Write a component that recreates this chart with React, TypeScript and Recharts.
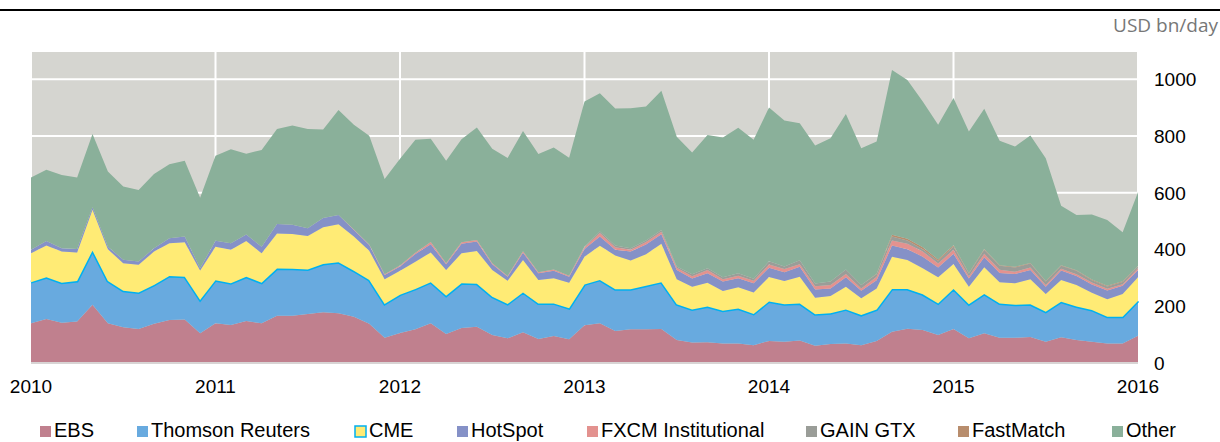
import React from "react";
import { AreaChart, Area, XAxis, YAxis, CartesianGrid, Legend } from "recharts";

// Monthly categories, Jan 2010 .. Jan 2016
const months: string[] = [
  "2010-01","2010-02","2010-03","2010-04","2010-05","2010-06","2010-07","2010-08","2010-09","2010-10","2010-11","2010-12",
  "2011-01","2011-02","2011-03","2011-04","2011-05","2011-06","2011-07","2011-08","2011-09","2011-10","2011-11","2011-12",
  "2012-01","2012-02","2012-03","2012-04","2012-05","2012-06","2012-07","2012-08","2012-09","2012-10","2012-11","2012-12",
  "2013-01","2013-02","2013-03","2013-04","2013-05","2013-06","2013-07","2013-08","2013-09","2013-10","2013-11","2013-12",
  "2014-01","2014-02","2014-03","2014-04","2014-05","2014-06","2014-07","2014-08","2014-09","2014-10","2014-11","2014-12",
  "2015-01","2015-02","2015-03","2015-04","2015-05","2015-06","2015-07","2015-08","2015-09","2015-10","2015-11","2015-12",
  "2016-01",
];

const yearTicks: string[] = ["2010-01", "2011-01", "2012-01", "2013-01", "2014-01", "2015-01", "2016-01"];
const valueTicks: number[] = [0, 200, 400, 600, 800, 1000];

const ebs: number[] = [
  140,155,142,146,205,140,126,120,138,152,153,105,
  140,134,148,140,167,167,173,179,175,163,138,89,
  106,119,140,102,123,128,99,87,108,85,95,84,
  133,140,113,119,119,120,81,72,73,69,69,63,
  78,75,79,61,67,69,63,78,110,121,116,99,
  120,87,105,89,89,92,75,91,81,75,69,69,
  96,
];
const thomsonReuters: number[] = [
  145,147,141,143,191,149,129,129,137,155,151,117,
  152,147,156,143,166,165,157,170,180,162,155,119,
  135,142,145,135,158,151,135,121,141,125,115,109,
  144,153,147,141,153,165,126,117,126,115,123,110,
  139,132,131,111,108,120,106,111,151,140,126,111,
  141,120,138,121,116,115,106,125,118,112,94,94,
  123,
];
const cme: number[] = [
  102,112,110,101,144,112,97,97,118,115,122,104,
  118,118,126,104,124,123,118,130,134,121,103,87,
  84,96,105,91,106,116,94,82,114,83,89,90,
  98,120,119,101,111,135,88,80,84,70,75,76,
  86,82,94,58,61,80,59,74,114,102,92,92,
  88,62,95,75,76,88,62,77,76,61,62,80,
  83,
];
const hotSpot: number[] = [
  12,16,12,12,9,9,12,12,12,18,20,8,
  21,23,23,23,33,32,27,32,33,23,20,15,
  15,27,29,20,33,33,20,14,26,23,26,21,
  27,33,20,32,35,34,33,29,33,33,32,32,
  33,31,35,29,27,33,27,29,39,38,41,35,
  36,29,35,32,33,33,26,33,32,29,31,29,
  26,
];
const fxcm: number[] = [
  0,0,0,0,0,0,0,0,0,0,0,0,
  0,0,0,0,0,0,0,0,0,2,2,3,
  4,5,8,4,6,6,4,3,5,4,5,4,
  6,12,9,6,9,9,8,8,12,8,9,9,
  11,11,9,12,12,12,8,12,18,19,18,14,
  14,8,12,12,8,9,6,6,6,7,6,6,
  6,
];
const gainGtx: number[] = [
  0,0,0,0,0,0,0,0,0,0,0,0,
  0,0,0,0,0,0,0,0,0,0,0,0,
  0,0,0,0,0,0,0,0,0,0,0,0,
  3,6,6,6,5,6,4,7,6,7,8,7,
  12,9,14,9,12,16,12,9,14,12,8,9,
  12,9,14,14,15,14,12,11,12,8,8,8,
  6,
];
const fastMatch: number[] = [
  0,0,0,0,0,0,0,0,0,0,0,0,
  0,0,0,0,0,0,0,0,0,0,0,0,
  0,0,0,0,0,0,0,0,0,0,0,0,
  0,0,0,0,0,0,0,0,0,0,0,0,
  0,0,0,0,0,0,0,2,6,6,7,5,
  4,2,3,2,2,2,2,2,2,2,2,2,
  2,
];
const other: number[] = [
  255,251,258,252,258,265,258,252,261,261,267,249,
  300,332,285,341,335,350,350,312,370,369,383,336,
  376,398,364,361,363,396,403,416,424,417,430,416,
  511,487,483,493,472,491,458,429,470,493,513,490,
  542,515,483,487,505,548,482,466,581,560,514,475,
  519,499,494,439,424,449,433,209,195,230,232,173,
  260,
];

const series = [
  { key: "ebs", name: "EBS", color: "#C0808E", values: ebs },
  { key: "tr", name: "Thomson Reuters", color: "#68AADF", values: thomsonReuters },
  { key: "cme", name: "CME", color: "#FFEB75", values: cme },
  { key: "hotspot", name: "HotSpot", color: "#8591C7", values: hotSpot },
  { key: "fxcm", name: "FXCM Institutional", color: "#E3928F", values: fxcm },
  { key: "gain", name: "GAIN GTX", color: "#9A9D98", values: gainGtx },
  { key: "fastmatch", name: "FastMatch", color: "#B88D6D", values: fastMatch },
  { key: "other", name: "Other", color: "#8AB09A", values: other },
];

const data = months.map((m, i) => {
  const row: Record<string, string | number> = { month: m };
  series.forEach((s) => {
    row[s.key] = s.values[i];
  });
  return row;
});

const legendX = [40, 137, 355, 457, 587, 806, 958, 1112];
const FONT = "'Liberation Sans', Arial, sans-serif";

const renderLegend = () => (
  <svg width={1220} height={24} style={{ overflow: "visible", display: "block" }}>
    {series.map((s, i) => (
      <g key={s.key}>
        <rect
          x={legendX[i]}
          y={8}
          width={11}
          height={11}
          fill={s.color}
          stroke={s.key === "cme" ? "#00B0F0" : "none"}
          strokeWidth={1.5}
        />
        <text x={legendX[i] + 14} y={19} fontSize={20} fontFamily={FONT} fill="#000">
          {s.name}
        </text>
      </g>
    ))}
  </svg>
);

export default function App() {
  return (
    <div style={{ position: "absolute", left: 0, top: 0, width: 1220, height: 442, background: "#fff", overflow: "hidden" }}>
      <div style={{ position: "absolute", left: 0, top: 9, width: 1220, height: 2, background: "#000" }} />
      <svg width={1220} height={442} style={{ position: "absolute", left: 0, top: 0, pointerEvents: "none" }}>
        <text x={1218} y={32} textAnchor="end" fontSize={19} fontFamily="'Open Sans', sans-serif" fill="#777">
          USD bn/day
        </text>
      </svg>
      <div style={{ position: "absolute", left: 0, top: 0 }}>
        <AreaChart width={1220} height={442} data={data} margin={{ top: 51, right: 22, bottom: 39, left: 31 }}>
          <CartesianGrid fill="#D5D5D0" stroke="#FFFFFF" strokeWidth={2} />
          <XAxis
            dataKey="month"
            ticks={yearTicks}
            interval={0}
            tickFormatter={(v: string) => v.slice(0, 4)}
            height={40}
            axisLine={{ stroke: "#D8D4D4", strokeWidth: 2 }}
            tickLine={false}
            tickSize={6}
            tickMargin={11}
            tick={{ fill: "#000", fontSize: 19, fontFamily: FONT }}
          />
          <YAxis
            orientation="right"
            domain={[0, 1100]}
            ticks={valueTicks}
            width={60}
            axisLine={false}
            tickLine={false}
            tickSize={6}
            tickMargin={10}
            tick={{ fill: "#000", fontSize: 19, fontFamily: FONT }}
          />
          {series.map((s) => (
            <Area
              key={s.key}
              type="linear"
              dataKey={s.key}
              name={s.name}
              stackId="1"
              fill={s.color}
              fillOpacity={1}
              stroke={s.key === "tr" ? "#00B0F0" : "none"}
              strokeWidth={s.key === "tr" ? 3 : 0}
              dot={false}
              activeDot={false}
              isAnimationActive={false}
            />
          ))}
          <Legend
            layout="vertical"
            align="center"
            verticalAlign="middle"
            content={renderLegend}
            wrapperStyle={{ position: "absolute", left: 0, top: 418, width: 1220, height: 24 }}
          />
        </AreaChart>
      </div>
    </div>
  );
}
